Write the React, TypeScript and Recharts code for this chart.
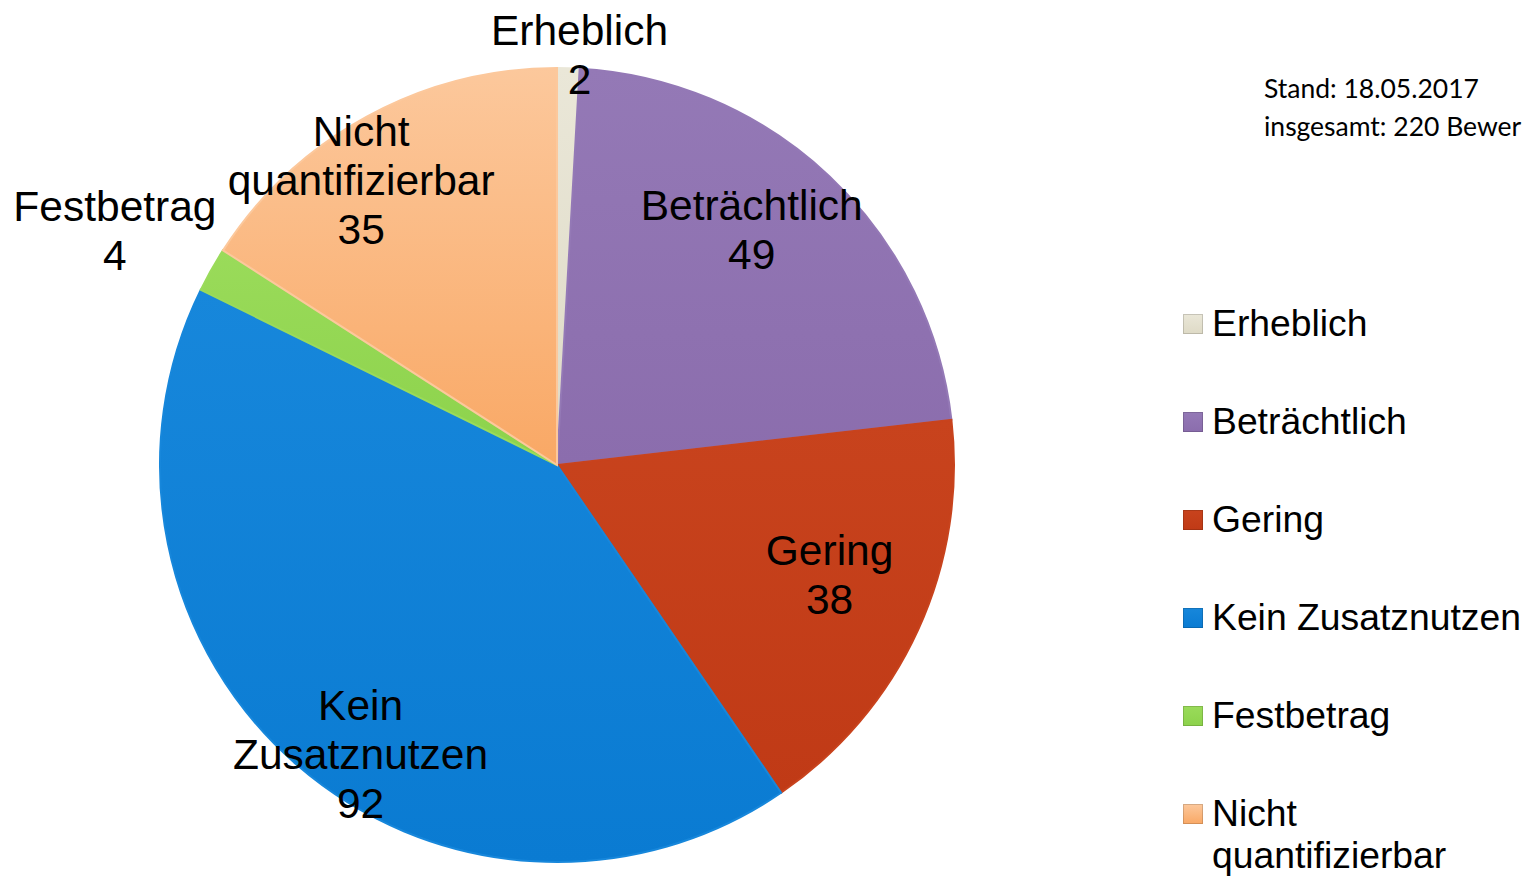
import { Cell, Legend, Pie, PieChart } from "recharts";

const categories = [
  "Erheblich",
  "Beträchtlich",
  "Gering",
  "Kein Zusatznutzen",
  "Festbetrag",
  "Nicht quantifizierbar",
];
const counts = [2, 49, 38, 92, 4, 35];
// label lines as printed on the slices
const labelLines = [
  ["Erheblich"],
  ["Beträchtlich"],
  ["Gering"],
  ["Kein", "Zusatznutzen"],
  ["Festbetrag"],
  ["Nicht", "quantifizierbar"],
];
const legendLines = [
  ["Erheblich"],
  ["Beträchtlich"],
  ["Gering"],
  ["Kein Zusatznutzen"],
  ["Festbetrag"],
  ["Nicht", "quantifizierbar"],
];
const colors = ["#DEDAC6", "#8B6DAD", "#C03A16", "#0A7BD2", "#8CD24B", "#F9A865"];
const lightColors = ["#EAE7D8", "#9479B6", "#C8431D", "#1787DB", "#9ADB5A", "#FCC89C"];
// where each label sits: fraction of the radius, and a nudge off the mid angle
const labelRadius = [1.035, 0.77, 0.74, 0.88, 1.26, 0.87];
const labelAngleShift = [-1.5, 3.8, 2.65, 6.7, 1.55, 5.9];
// the reference crops this note at the right edge
const noteLines = ["Stand: 18.05.2017", "insgesamt: 220 Bewer"];

const data = categories.map((name, i) => ({ name, value: counts[i] }));

const RAD = Math.PI / 180;
const FONT = "'Liberation Sans', Arial, sans-serif";

const renderLabel = (props: any) => {
  const { cx, cy, midAngle, outerRadius, index, value } = props;
  const r = outerRadius * labelRadius[index];
  const a = midAngle + labelAngleShift[index];
  const x = cx + r * Math.cos(-a * RAD);
  const y = cy + r * Math.sin(-a * RAD);
  const lines = [...labelLines[index], String(value)];
  const lh = 49;
  const top = y - ((lines.length - 1) * lh) / 2;
  return (
    <text
      key={`lbl-${index}`}
      x={x}
      y={top}
      textAnchor="middle"
      dominantBaseline="central"
      fontFamily={FONT}
      fontSize={42.5}
      fill="#000"
    >
      {lines.map((t, i) => (
        <tspan key={i} x={x} y={top + i * lh} dominantBaseline="central">
          {t}
        </tspan>
      ))}
    </text>
  );
};

const LegendBox = () => (
  <div style={{ fontFamily: FONT, fontSize: 37.3, color: "#000" }}>
    {categories.map((c, i) => (
      <div
        key={c}
        style={{ display: "flex", alignItems: "flex-start", height: 98 }}
      >
        <div
          style={{
            width: 20,
            height: 20,
            marginTop: 12,
            marginRight: 9,
            background: `linear-gradient(180deg, ${lightColors[i]}, ${colors[i]})`,
            boxShadow: "inset 0 0 0 1px rgba(0,0,0,0.15)",
            flexShrink: 0,
          }}
        />
        <div style={{ lineHeight: "42px" }}>
          {legendLines[i].map((t) => (
            <div key={t}>{t}</div>
          ))}
        </div>
      </div>
    ))}
  </div>
);

const App = () => {
  return (
    <div
      style={{
        position: "absolute",
        left: 0,
        top: 0,
        width: 1527,
        height: 877,
        overflow: "hidden",
        background: "#fff",
      }}
    >
      <div
        style={{
          position: "absolute",
          left: 1264,
          top: 69,
          fontFamily: "Lato, 'Open Sans', sans-serif",
          fontSize: 26.5,
          lineHeight: "38px",
          whiteSpace: "nowrap",
          color: "#000",
        }}
      >
        {noteLines.map((t) => (
          <div key={t}>{t}</div>
        ))}
      </div>
      <PieChart width={1527} height={877} margin={{ top: 0, right: 0, bottom: 0, left: 0 }}>
        <defs>
          {colors.map((c, i) => (
            <linearGradient key={c} id={`g${i}`} x1="0" y1="0" x2="0" y2="1">
              <stop offset="0%" stopColor={lightColors[i]} />
              <stop offset="100%" stopColor={c} />
            </linearGradient>
          ))}
        </defs>
        <Pie
          data={data}
          dataKey="value"
          nameKey="name"
          cx={557}
          cy={465}
          outerRadius={397}
          startAngle={90}
          endAngle={-270}
          label={renderLabel}
          labelLine={false}
          isAnimationActive={false}
        >
          {data.map((d, i) => (
            <Cell key={d.name} fill={`url(#g${i})`} stroke={lightColors[i]} strokeWidth={2} />
          ))}
        </Pie>
        <Legend
          layout="vertical"
          align="right"
          verticalAlign="top"
          content={() => <LegendBox />}
          wrapperStyle={{ left: 1183, top: 302, right: "auto", width: 344 }}
        />
      </PieChart>
    </div>
  );
};

export default App;
